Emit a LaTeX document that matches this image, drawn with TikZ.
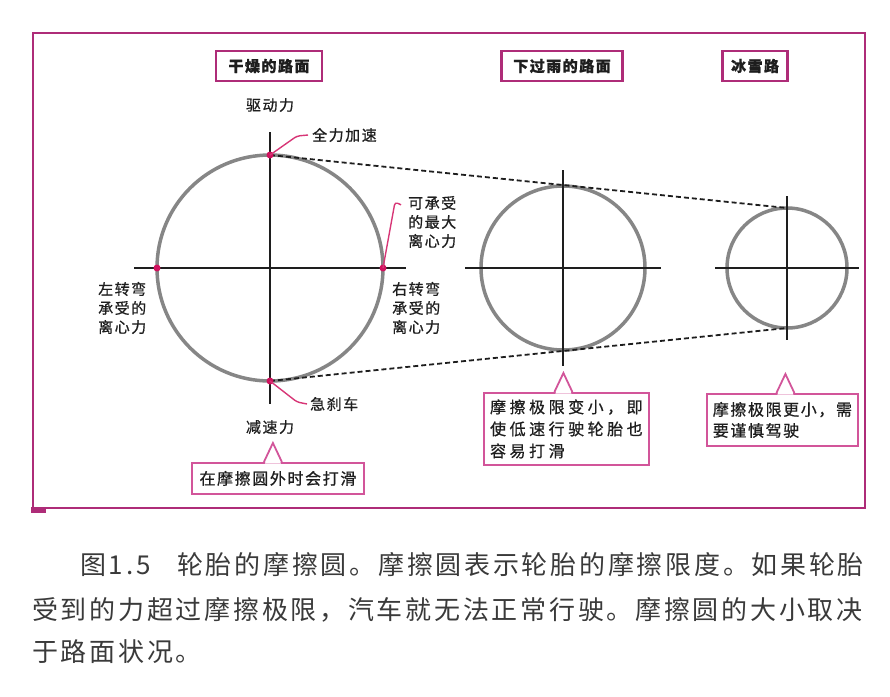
\documentclass[tikz,border=0pt]{standalone}
\usepackage{fontspec}
\setmainfont{Noto Sans CJK SC}
\newfontfamily\capfont{Noto Sans CJK SC}[LetterSpace=10.5]
\newfontfamily\lblfont{Noto Sans CJK SC}[LetterSpace=10, FakeBold=0.8]
\newfontfamily\notefont{Noto Sans CJK SC}[LetterSpace=22, FakeBold=0.8]
\usetikzlibrary{positioning, calc}
\definecolor{Frame}{HTML}{AE2C78}
\definecolor{Callout}{HTML}{D2559A}
\definecolor{Dot}{HTML}{D0125E}
\definecolor{Ring}{HTML}{868686}
\definecolor{Dark}{HTML}{1E1E1E}
\definecolor{Caption}{HTML}{3A3A3A}
\tikzset{
    headbox/.style={rectangle, draw=Frame, line width=2.2pt, inner sep=0pt, text=Dark, font=\fontsize{15}{18}\lblfont\bfseries},
    notebox/.style={rectangle, draw=Callout, line width=1.8pt, fill=white, inner sep=0pt, align=left, text=Dark},
    lbl/.style={inner sep=0pt, align=left, text=Dark, font=\fontsize{15}{19}\lblfont},
    captxt/.style={anchor=west, inner sep=0pt, text=Caption, font=\fontsize{26}{44}\capfont},
    dot/.style={circle, fill=Dot, inner sep=0pt, minimum size=7pt},
    ring/.style={circle, draw=Ring, line width=3.5pt, inner sep=0pt, outer sep=0pt},
    axis/.style={line width=1.6pt, color=Dark},
    leader/.style={line width=1.4pt, color=Dot!85, rounded corners=3pt},
    tangent/.style={line width=1.8pt, color=Dark, dash pattern=on 5pt off 3pt},
    notch/.style={line width=1.8pt, color=Callout},
}

\begin{document}
\begin{tikzpicture}[x=1pt, y=-1pt]
    \useasboundingbox (0,0) rectangle (890,696);

    % Frame
    \draw[Frame, line width=2.5pt] (33,33) rectangle (865,508);
    \fill[Frame] (31,507) rectangle (46,513);

    % Friction circles and axes
    \foreach \nm/\cx/\r/\a in {dry/270/113/136, rain/563/82/98, snow/787/60/72} {
        \node[ring, minimum size=2*\r] (\nm) at (\cx,268) {};
        \draw[axis] ([xshift=-\a]\nm.center) -- ([xshift=\a]\nm.center);
        \draw[axis] ([yshift=\a]\nm.center) -- ([yshift=-\a]\nm.center);
    }

    % Tangents
    \draw[tangent] (dry.north) -- (snow.north);
    \draw[tangent] (dry.south) -- (snow.south);

    % Limit points
    \node[dot] (dtop) at (dry.north) {};
    \node[dot] (dbot) at (dry.south) {};
    \node[dot] (dleft) at (dry.west) {};
    \node[dot] (dright) at (dry.east) {};

    % Headings
    \node[headbox, minimum width=106, minimum height=30] (hdry) at (269,66) {干燥的路面};
    \node[headbox, minimum width=121, minimum height=30] (hrain) at (562,66) {下过雨的路面};
    \node[headbox, minimum width=65, minimum height=30] (hsnow) at (755,66) {冰雪路};

    % Labels
    \node[lbl] (drive) at (270,105) {驱动力};
    \node[lbl] (brake) at (270,427) {减速力};
    \node[lbl, anchor=west] (full) at (312,135) {全力加速};
    \node[lbl, anchor=west] (maxc) at (408,222) {可承受\\的最大\\离心力};
    \node[lbl, anchor=west] (leftc) at (98,308) {左转弯\\承受的\\离心力};
    \node[lbl, anchor=west] (rightc) at (392,308) {右转弯\\承受的\\离心力};
    \node[lbl, anchor=west] (stop) at (310,404) {急刹车};

    % Leaders
    \draw[leader] (dtop.center) -- ++(27,-19) -- ([xshift=-4]full.west);
    \draw[leader] (dright.center) -- ++(12,-66) -- ([xshift=-7,yshift=-9]maxc.north west);
    \draw[leader] (dbot.center) -- ++(27,21) -- ([xshift=-3]stop.west);

    % Callouts
    \node[notebox, font=\fontsize{16}{22}\notefont, minimum width=165, minimum height=72, anchor=north west] (rainnote) at (483,392) {摩擦极限变小，即\\使低速行驶轮胎也\\容易打滑};
    \node[notebox, font=\fontsize{16}{21}\lblfont, minimum width=151, minimum height=52, anchor=north west] (snownote) at (706,393) {摩擦极限更小，需\\要谨慎驾驶};
    \node[notebox, font=\fontsize{16}{20}\lblfont, minimum width=172, minimum height=31, anchor=north west] (slipnote) at (191,462) {在摩擦圆外时会打滑};
    \foreach \b/\dx in {slipnote/-5, rainnote/-3, snownote/3} {
        \fill[white] ($(\b.north)+(\dx-8,1.5)$) -- ($(\b.north)+(\dx,-19)$) -- ($(\b.north)+(\dx+8,1.5)$) -- cycle;
        \draw[notch] ($(\b.north)+(\dx-9,0)$) -- ($(\b.north)+(\dx,-19)$) -- ($(\b.north)+(\dx+9,0)$);
    }

    % Caption
    \node[captxt] (capnum) at (80,565) {图1.5};
    \node[captxt] (cap1) at (177,565) {轮胎的摩擦圆。摩擦圆表示轮胎的摩擦限度。如果轮胎};
    \node[captxt] (cap2) at (32,610) {受到的力超过摩擦极限，汽车就无法正常行驶。摩擦圆的大小取决};
    \node[captxt] (cap3) at (32,652) {于路面状况。};
\end{tikzpicture}
\end{document}
